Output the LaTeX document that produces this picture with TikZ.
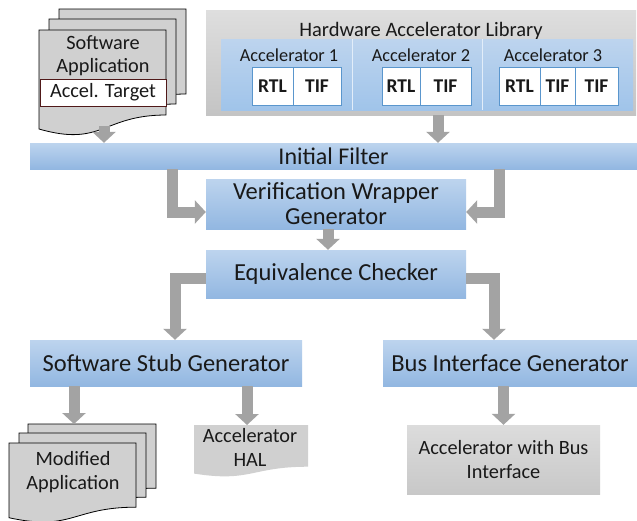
\documentclass[tikz,border=0pt]{standalone}
\usepackage{fontspec}
\setmainfont{Carlito}
\usetikzlibrary{arrows.meta}
\definecolor{bluetop}{RGB}{189,212,238}
\definecolor{bluebot}{RGB}{146,183,225}
\definecolor{bandblue}{RGB}{160,196,234}
\definecolor{arrowgray}{RGB}{163,163,163}
\definecolor{docgray}{RGB}{208,208,208}
\definecolor{libtop}{RGB}{222,222,222}
\definecolor{libbot}{RGB}{196,196,196}
\definecolor{boxtop}{RGB}{220,220,220}
\definecolor{boxbot}{RGB}{200,200,200}
\definecolor{txt}{RGB}{25,25,25}
\definecolor{cellline}{RGB}{90,150,205}
\definecolor{tgtline}{RGB}{80,25,25}
\newcommand\mydoc[5]{%
  \path[#5] (#1,#2) -- ({#1+#3},#2) -- ({#1+#3},{#2+0.802*#4})
    .. controls ({#1+0.5*#3},{#2+0.802*#4}) and ({#1+0.5*#3},{#2+1.107*#4}) .. (#1,{#2+0.934*#4}) -- cycle;}
\tikzset{
  bluebox/.style={rectangle, inner sep=0pt, top color=bluetop, bottom color=bluebot, draw=none, text=txt, align=center},
  barrow/.style={draw=arrowgray, line width=11pt, -{Triangle[width=23pt,length=11pt]}, line join=miter},
  cell/.style={rectangle, draw=cellline, line width=0.6pt, fill=white, minimum height=38pt, inner sep=0pt, font=\fontsize{19.5}{22}\selectfont\bfseries, text=txt},
  lbl/.style={text=txt, align=center, inner sep=0pt},
  docp/.style={fill=docgray, draw=black, line width=0.8pt},
}
\begin{document}
\begin{tikzpicture}[x=1pt,y=-1pt]
\useasboundingbox[fill=white] (0,0) rectangle (637,520);
% Hardware accelerator library
\node[rectangle, inner sep=0pt, minimum width=430pt, minimum height=105pt, top color=libtop, bottom color=libbot] (lib) at (421,62.5) {};
\node[lbl, font=\fontsize{20.5}{24}\selectfont] (libtitle) at (421,31) {Hardware Accelerator Library};
\node[rectangle, inner sep=0pt, minimum width=412pt, minimum height=71pt, top color=bluetop, bottom color=bandblue] (band) at (427,74.5) {};
\draw[white!70!bandblue, line width=0.8pt] (352,39) -- (352,110) (482,39) -- (482,110);
\node[lbl, font=\fontsize{18.3}{21}\selectfont] (acc1) at (289,55) {Accelerator 1};
\node[lbl, font=\fontsize{18.3}{21}\selectfont] (acc2) at (421,55) {Accelerator 2};
\node[lbl, font=\fontsize{18.3}{21}\selectfont] (acc3) at (553,55) {Accelerator 3};
\node[cell, minimum width=41pt] (r1) at (272.5,86) {RTL};
\node[cell, minimum width=48pt] (t1) at (317,86) {TIF};
\node[cell, minimum width=38pt] (r2) at (401,86) {RTL};
\node[cell, minimum width=51pt] (t2) at (445.5,86) {TIF};
\node[cell, minimum width=41pt] (r3) at (519.5,86) {RTL};
\node[cell, minimum width=35pt] (t3) at (557.5,86) {TIF};
\node[cell, minimum width=43pt] (t4) at (596.5,86) {TIF};
% Software application stack
\mydoc{59}{9}{127}{106}{docp}
\mydoc{49}{19}{127}{106}{docp}
\mydoc{39}{30}{127}{106}{docp}
\node[lbl, font=\fontsize{20.3}{23}\selectfont] (swapp) at (103,56) {Software\\Application};
\node[rectangle, draw=tgtline, line width=0.9pt, fill=white, minimum width=126pt, minimum height=27pt, inner sep=0pt, text=txt, font=\fontsize{20.3}{23}\selectfont] (tgt) at (103,92.5) {Accel. Target};
\coordinate (swbot) at (104,126);
\coordinate (libout) at (438,115);
% Main blocks
\node[bluebox, minimum width=607pt, minimum height=26pt, font=\fontsize{24}{27}\selectfont] (filter) at (333.5,156) {Initial Filter};
\node[bluebox, minimum width=260pt, minimum height=50pt, font=\fontsize{24.5}{25}\selectfont] (vwg) at (336,204) {Verification Wrapper\\Generator};
\node[bluebox, minimum width=260pt, minimum height=48pt, font=\fontsize{24.5}{27}\selectfont] (eqc) at (336,274) {Equivalence Checker};
\node[bluebox, minimum width=272pt, minimum height=46pt, font=\fontsize{24.5}{27}\selectfont] (ssg) at (166,363) {Software Stub Generator};
\node[bluebox, minimum width=254pt, minimum height=46pt, font=\fontsize{24.5}{27}\selectfont] (big) at (510,363) {Bus Interface Generator};
% Outputs
\mydoc{28}{424}{128}{80}{docp}
\mydoc{19}{433}{127}{80}{docp}
\mydoc{9}{443}{127}{80}{docp}
\node[lbl, font=\fontsize{20.3}{24}\selectfont] (modapp) at (73,472) {Modified\\Application};
\mydoc{194}{425}{114}{52}{fill=docgray}
\node[lbl, font=\fontsize{20.3}{24}\selectfont] (hal) at (250,447) {Accelerator\\HAL};
\node[rectangle, inner sep=0pt, minimum width=193pt, minimum height=69pt, top color=boxtop, bottom color=boxbot, text=txt, align=center, font=\fontsize{20.3}{24}\selectfont] (awb) at (503.5,459.5) {Accelerator with Bus\\Interface};
\coordinate (modtop) at (74,424);
\coordinate (haltop) at (247,425);
% Arrow x positions
\coordinate (lx) at (172,0);
\coordinate (rx) at (499,0);
\coordinate (mx) at (328,0);
\coordinate (lx2) at (175,0);
\coordinate (rx2) at (494,0);
% Arrows
\draw[barrow] (swbot) -- (swbot |- filter.north);
\draw[barrow] (libout) -- (libout |- filter.north);
\draw[barrow] (filter.south -| lx) |- ([yshift=-8pt]vwg.west);
\draw[barrow] (filter.south -| rx) |- ([yshift=-8pt]vwg.east);
\draw[barrow] (vwg.south -| mx) -- (eqc.north -| mx);
\draw[barrow] ([yshift=-4pt]eqc.west) -| (ssg.north -| lx2);
\draw[barrow] ([yshift=-4pt]eqc.east) -| (big.north -| rx2);
\draw[barrow] (ssg.south -| modtop) -- (modtop);
\draw[barrow] (ssg.south -| haltop) -- (haltop);
\draw[barrow] (big.south -| awb.north) -- (awb.north);
\end{tikzpicture}
\end{document}
